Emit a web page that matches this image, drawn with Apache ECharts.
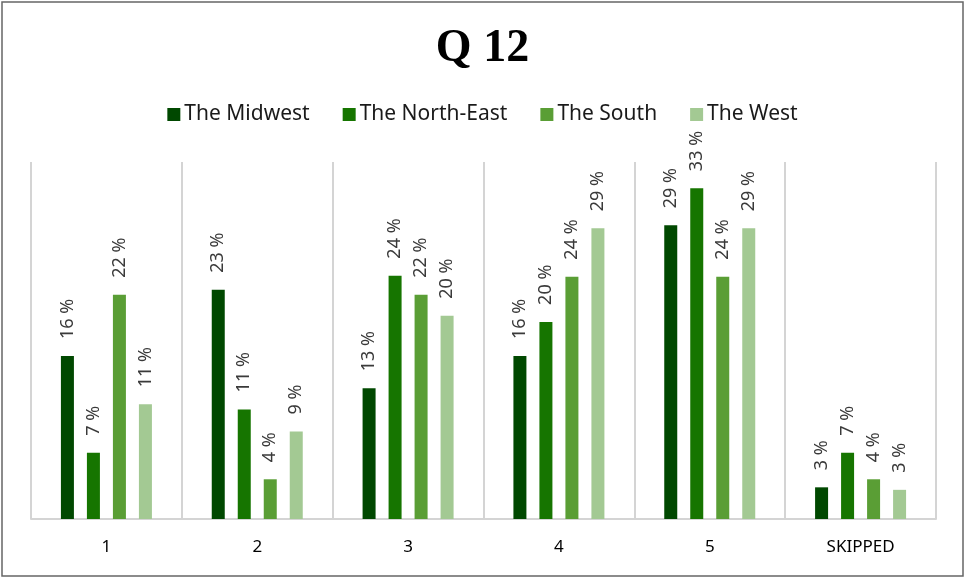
<!DOCTYPE html>
<html>
<head>
<meta charset="utf-8">
<script src="https://cdn.jsdelivr.net/npm/echarts@6/dist/echarts.min.js"></script>
<style>
  html, body { margin: 0; padding: 0; background: #fff; }
  #chart { width: 965px; height: 578px; }
</style>
</head>
<body>
<div id="chart"></div>
<script>
// categories and series (percent)
var categories = ['1', '2', '3', '4', '5', 'SKIPPED'];
var seriesNames = ['The Midwest', 'The North-East', 'The South', 'The West'];
var midwest   = [16.2, 22.8, 13.0, 16.2, 29.2, 3.15];
var northEast = [6.6, 10.9, 24.2, 19.6, 32.9, 6.6];
var south     = [22.3, 3.95, 22.3, 24.1, 24.1, 3.95];
var west      = [11.4, 8.7, 20.2, 28.9, 28.9, 2.9];
var colors = ['#004800', '#167500', '#5a9e35', '#a3c993'];

function make_series(name, data, color){
    return {
        name: name,
        type: 'bar',
        data: data,
        barWidth: 13,
        barGap: '100%',
        itemStyle: { color: color },
        label: {
            show: true,
            position: 'top',
            rotate: 90,
            align: 'left',
            verticalAlign: 'middle',
            distance: 17,
            fontFamily: 'Noto Sans',
            fontSize: 18,
            color: '#3a3a3a',
            formatter: function(p){ return Math.round(p.value) + ' %'; }
        }
    };
}

var myChart = echarts.init(document.getElementById('chart'));
var option = {
    animation: false,
    color: colors,
    title: {
        text: 'Q 12',
        left: 'center',
        top: 21,
        textStyle: {
            fontFamily: 'Liberation Serif',
            fontWeight: 'bold',
            fontSize: 46,
            color: '#000'
        }
    },
    legend: {
        top: 99,
        left: 'center',
        itemWidth: 13,
        itemHeight: 13,
        itemGap: 33,
        icon: 'rect',
        textStyle: {
            fontFamily: 'Noto Sans',
            fontSize: 21,
            color: '#1a1a1a',
            padding: [0, 0, 0, -1]
        },
        data: seriesNames
    },
    grid: { left: 31, right: 29, top: 162, bottom: 59 },
    xAxis: {
        type: 'category',
        data: categories,
        axisTick: { show: false },
        axisLine: { lineStyle: { color: '#d4d4d4', width: 2 } },
        splitLine: { show: true, lineStyle: { color: '#d4d4d4', width: 2 } },
        axisLabel: {
            margin: 20,
            fontFamily: 'Noto Sans',
            fontSize: 17,
            color: '#000'
        }
    },
    yAxis: {
        type: 'value',
        min: 0,
        max: 35.5,
        show: false,
        splitLine: { show: false }
    },
    graphic: [{
        type: 'rect',
        shape: { x: 2, y: 2, width: 961, height: 574 },
        style: { fill: 'none', stroke: '#666', lineWidth: 1.5 },
        silent: true
    }],
    series: [
        make_series(seriesNames[0], midwest, colors[0]),
        make_series(seriesNames[1], northEast, colors[1]),
        make_series(seriesNames[2], south, colors[2]),
        make_series(seriesNames[3], west, colors[3])
    ]
};
myChart.setOption(option);
</script>
</body>
</html>
